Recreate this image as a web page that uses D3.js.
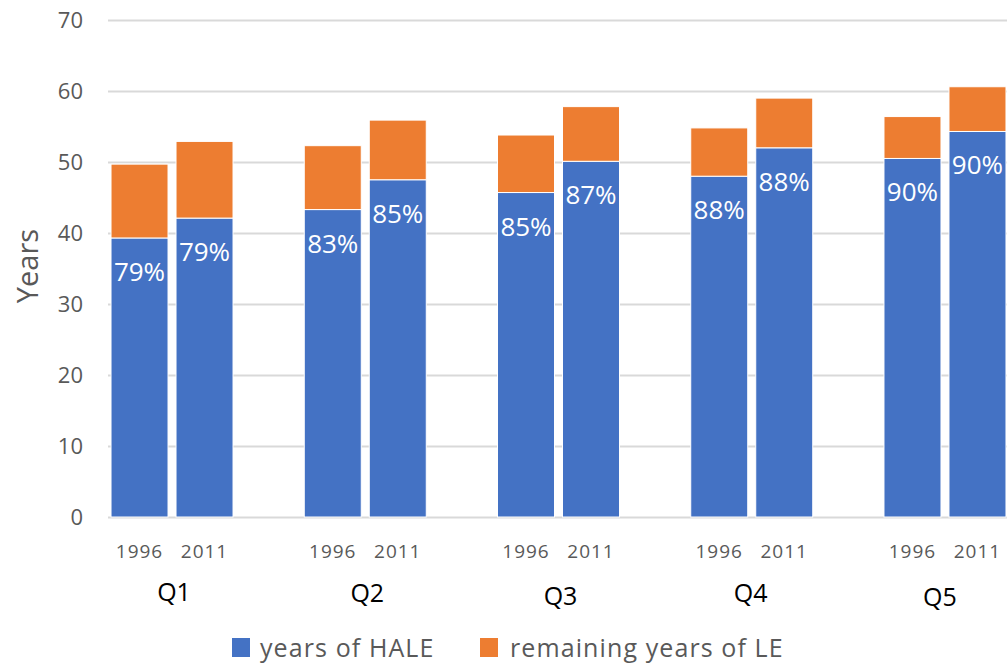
<!DOCTYPE html>
<html>
<head>
<meta charset="utf-8">
<script src="https://cdn.jsdelivr.net/npm/d3@7"></script>
<style>
  html, body { margin: 0; padding: 0; background: #fff; }
  svg { display: block; font-family: "Open Sans", "Noto Sans", sans-serif; }
</style>
</head>
<body>
<svg id="chart" width="1007" height="663"></svg>
<script>
// Income quintiles and survey years
const quintiles = ["Q1", "Q2", "Q3", "Q4", "Q5"];
const years = ["1996", "2011"];

// Healthy life expectancy (years), per quintile, 1996 then 2011
const haleYears = [
  [39.3, 42.1],
  [43.3, 47.5],
  [45.7, 50.1],
  [48.0, 52.0],
  [50.5, 54.3]
];
// Total life expectancy (years), per quintile, 1996 then 2011
const totalLE = [
  [49.7, 52.9],
  [52.3, 55.9],
  [53.8, 57.8],
  [54.8, 59.0],
  [56.4, 60.6]
];
// Share of life expectancy lived in good health
const shareLabels = [
  ["79%", "79%"],
  ["83%", "85%"],
  ["85%", "87%"],
  ["88%", "88%"],
  ["90%", "90%"]
];

const yTicks = [0, 10, 20, 30, 40, 50, 60, 70];
const seriesNames = ["years of HALE", "remaining years of LE"];
const colors = ["#4472C4", "#ED7D31"];

const svg = d3.select("#chart");

const plotLeft = 108, plotRight = 1007;
const y = d3.scaleLinear().domain([0, 70]).range([517, 20]);

// Quintile groups, and the two years inside each group
const xGroup = d3.scaleBand().domain(quintiles).range([75.4, 1041.6]);
const groupSpan = 122;
const xYear = d3.scaleBand().domain(years).range([0, groupSpan]).paddingInner(8 / 65).paddingOuter(0);

// Gridlines
svg.append("g")
  .selectAll("line")
  .data(yTicks)
  .join("line")
  .attr("x1", plotLeft)
  .attr("x2", plotRight)
  .attr("y1", d => Math.round(y(d)) + 0.5)
  .attr("y2", d => Math.round(y(d)) + 0.5)
  .attr("stroke", "#d9d9d9")
  .attr("stroke-width", 2);

// Y axis tick labels
const yAxis = d3.axisLeft(y).tickValues(yTicks).tickSize(0).tickPadding(0);
const yg = svg.append("g").attr("transform", "translate(83,0)").call(yAxis);
yg.select(".domain").remove();
yg.selectAll("text")
  .attr("fill", "#595959")
  .attr("font-size", 22)
  .attr("dy", "0.36em")
  .attr("font-family", "Open Sans, sans-serif");

// Y axis title
svg.append("text")
  .attr("transform", "translate(38,266) rotate(-90)")
  .attr("text-anchor", "middle")
  .attr("fill", "#595959")
  .attr("font-size", 29)
  .text("Years");

// One record per bar
const bars = [];
quintiles.forEach((q, i) => {
  years.forEach((yr, j) => {
    bars.push({ q, yr, hale: haleYears[i][j], total: totalLE[i][j], label: shareLabels[i][j] });
  });
});
const barX = d => xGroup(d.q) + (xGroup.bandwidth() - groupSpan) / 2 + xYear(d.yr);

const barG = svg.append("g");
// HALE segment
barG.selectAll("rect.hale")
  .data(bars)
  .join("rect")
  .attr("class", "hale")
  .attr("x", barX)
  .attr("width", xYear.bandwidth())
  .attr("y", d => y(d.hale))
  .attr("height", d => y(0) - y(d.hale))
  .attr("fill", colors[0])
  .attr("stroke", "#fff")
  .attr("stroke-width", 1);
// Remaining LE segment
barG.selectAll("rect.rest")
  .data(bars)
  .join("rect")
  .attr("class", "rest")
  .attr("x", barX)
  .attr("width", xYear.bandwidth())
  .attr("y", d => y(d.total))
  .attr("height", d => y(d.hale) - y(d.total))
  .attr("fill", colors[1])
  .attr("stroke", "#fff")
  .attr("stroke-width", 1);

// Percentage labels inside the HALE segment
barG.selectAll("text.pct")
  .data(bars)
  .join("text")
  .attr("class", "pct")
  .attr("x", d => barX(d) + xYear.bandwidth() / 2)
  .attr("y", d => y(d.hale) + 43)
  .attr("text-anchor", "middle")
  .attr("fill", "#fff")
  .attr("font-size", 26)
  .text(d => d.label);

// Year labels under each bar
svg.append("g").selectAll("text")
  .data(bars)
  .join("text")
  .attr("x", d => barX(d) + xYear.bandwidth() / 2)
  .attr("y", 558)
  .attr("text-anchor", "middle")
  .attr("fill", "#595959")
  .attr("font-size", 19)
  .attr("letter-spacing", 1)
  .text(d => d.yr);

// Quintile labels (placed as individual text boxes)
const qShift = [[2, 601], [2, 602], [2, 605], [-1, 602], [-5, 606]];
svg.append("g").selectAll("text")
  .data(quintiles)
  .join("text")
  .attr("x", (d, i) => xGroup(d) + xGroup.bandwidth() / 2 + qShift[i][0])
  .attr("y", (d, i) => qShift[i][1])
  .attr("text-anchor", "middle")
  .attr("fill", "#000")
  .attr("font-size", 25)
  .text(d => d);

// Legend
const legendX = [232, 480];
const lg = svg.append("g").selectAll("g")
  .data(seriesNames)
  .join("g")
  .attr("transform", (d, i) => `translate(${legendX[i]},638)`);
lg.append("rect").attr("width", 18).attr("height", 19).attr("fill", (d, i) => colors[i]);
lg.append("text")
  .attr("x", d => d === seriesNames[0] ? 28 : 30)
  .attr("y", 18.5)
  .attr("fill", "#595959")
  .attr("font-size", 25)
  .attr("letter-spacing", 1.1)
  .text(d => d);
</script>
</body>
</html>
